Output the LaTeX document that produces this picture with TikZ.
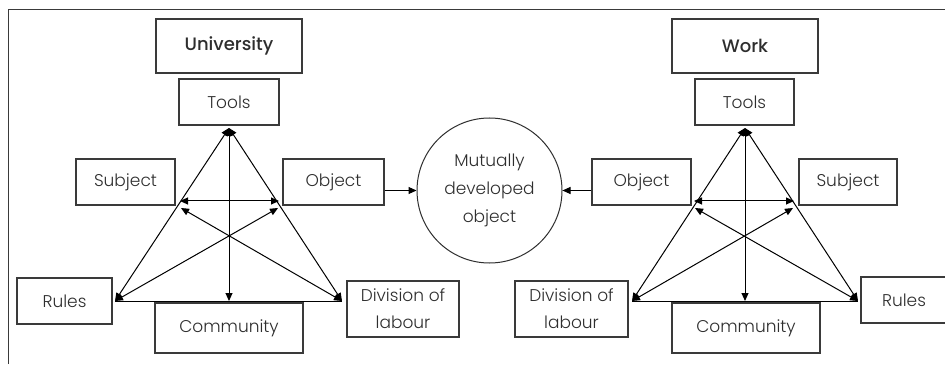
\documentclass[tikz,border=0pt]{standalone}
\usepackage{fontspec}
\setmainfont{Poppins}[UprightFont=* Light, BoldFont=* Medium]
\usetikzlibrary{arrows.meta}
\definecolor{ink}{HTML}{2E2E2E}
\definecolor{edge}{HTML}{3A3A3A}
\begin{document}
\begin{tikzpicture}[x=1pt,y=-1pt,
  box/.style={draw=edge,line width=1.1pt,inner sep=0pt,align=center,
    text=ink,font=\fontsize{17}{27}\selectfont},
  title/.style={box,font=\fontsize{18}{27}\selectfont\bfseries},
  link/.style={line width=1pt,black},
  tip/.style={link,{Triangle[length=8pt,width=7pt]}-{Triangle[length=8pt,width=7pt]}},
  tipend/.style={link,-{Triangle[length=8pt,width=7pt]}}]
\useasboundingbox (0,0) rectangle (945,366);
% frame
\draw[edge,line width=1pt] (8,364) -- (8,10) -- (946,10);

% ---------- University activity system ----------
\node[title,minimum width=146pt,minimum height=54pt] (univ) at (229,46) {University};
\node[box,minimum width=100pt,minimum height=46pt] (utools) at (229,102) {Tools};
\node[box,minimum width=99pt,minimum height=46pt] (usubj) at (125.5,182) {Subject};
\node[box,minimum width=101pt,minimum height=46pt] (uobj) at (333.5,182) {Object};
\node[box,minimum width=95pt,minimum height=46pt] (urules) at (64.5,301) {Rules};
\node[box,minimum width=148pt,minimum height=50pt] (ucomm) at (229,328) {Community};
\node[box,minimum width=112pt,minimum height=56pt] (udiv) at (403,309) {Division of\\labour};

\coordinate (uA) at (229,128);
\coordinate (uBL) at (115,301);
\coordinate (uBR) at (342,301);
\coordinate (uBC) at (229,301);
\coordinate (uML) at (180,201);
\coordinate (uMR) at (279,201);
\coordinate (uDL) at (181,208);
\coordinate (uDR) at (278,208);

\draw[link] (uBL) -- (uBR);
\draw[tip] (uA) -- (uBL);
\draw[tip] (uA) -- (uBR);
\draw[tip] (uA) -- (uBC);
\draw[tip] (uML) -- (uMR);
\draw[tip] (uBL) -- (uDR);
\draw[tip] (uBR) -- (uDL);

% ---------- shared object ----------
\node[circle,draw=ink,line width=1pt,minimum size=145pt,inner sep=0pt,align=center,
  text=ink,font=\fontsize{17}{28}\selectfont] (mdo) at (489.5,190.5)
  {Mutually\\developed\\object};

% ---------- Work activity system ----------
\node[title,minimum width=146pt,minimum height=54pt] (work) at (745,46) {Work};
\node[box,minimum width=99pt,minimum height=46pt] (wtools) at (744.5,102) {Tools};
\node[box,minimum width=99pt,minimum height=46pt] (wobj) at (641.5,182) {Object};
\node[box,minimum width=98pt,minimum height=46pt] (wsubj) at (848,182) {Subject};
\node[box,minimum width=113pt,minimum height=56pt] (wdiv) at (571.5,309) {Division of\\labour};
\node[box,minimum width=148pt,minimum height=50pt] (wcomm) at (746,328) {Community};
\node[box,minimum width=86pt,minimum height=46pt] (wrules) at (904,300) {Rules};

\coordinate (wA) at (745,128);
\coordinate (wBL) at (632,301);
\coordinate (wBR) at (858,301);
\coordinate (wBC) at (745,301);
\coordinate (wML) at (694,201);
\coordinate (wMR) at (794,201);
\coordinate (wDL) at (695,208);
\coordinate (wDR) at (793,208);

\draw[link] (wBL) -- (wBR);
\draw[tip] (wA) -- (wBL);
\draw[tip] (wA) -- (wBR);
\draw[tip] (wA) -- (wBC);
\draw[tip] (wML) -- (wMR);
\draw[tip] (wBL) -- (wDR);
\draw[tip] (wBR) -- (wDL);

% objects feeding the shared object
\draw[tipend] (uobj.east |- mdo.west) -- (mdo.west);
\draw[tipend] (wobj.west |- mdo.east) -- (mdo.east);
\end{tikzpicture}
\end{document}
